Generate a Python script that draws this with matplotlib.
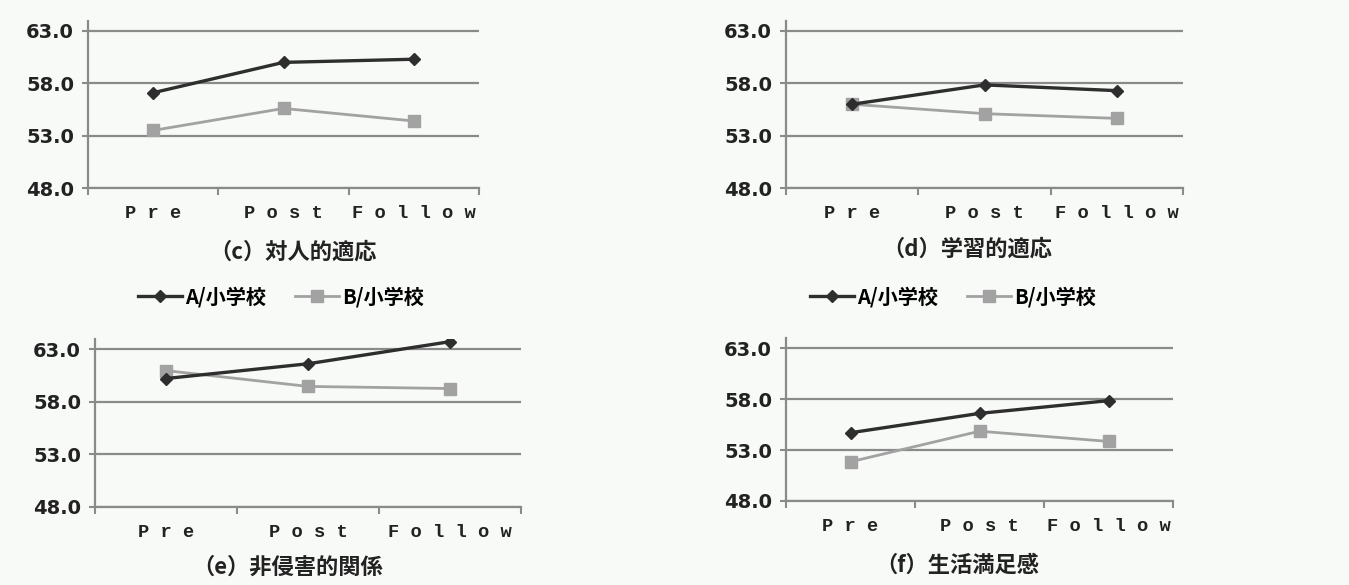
import matplotlib.pyplot as plt
from matplotlib.ticker import FixedLocator

plt.rcParams['font.family'] = ['Noto Sans CJK JP', 'DejaVu Sans']

# data
phases = ["P r e", "P o s t", "F o l l o w"]
school_a = "A/小学校"
school_b = "B/小学校"

titles = ["（c）対人的適応", "（d）学習的適応", "（e）非侵害的関係", "（f）生活満足感"]

a_scores = [
    [57.1, 60.0, 60.3],
    [56.0, 57.85, 57.3],
    [60.2, 61.6, 63.7],
    [54.7, 56.6, 57.85],
]
b_scores = [
    [53.5, 55.6, 54.4],
    [56.0, 55.1, 54.65],
    [60.95, 59.45, 59.25],
    [51.85, 54.85, 53.85],
]

yticks = [48.0, 53.0, 58.0, 63.0]

bg = "#f8faf7"
fig = plt.figure(figsize=(13.49, 5.85), dpi=100, facecolor=bg)

W, H = 1349.0, 585.0
# pixel boxes: left, right, top(=64), bottom(=48)
boxes = [
    (88, 479, 20.5, 188),
    (786, 1183, 20.5, 188),
    (95, 521, 338.5, 507),
    (786, 1173, 338, 501),
]
title_pos = [(293, 252), (967, 249), (288, 567), (957, 565)]

axes = []
for i, (l, r, t, b) in enumerate(boxes):
    ax = fig.add_axes([l / W, 1 - b / H, (r - l) / W, (b - t) / H])
    ax.set_facecolor(bg)
    xs = [k + 0.5 for k in range(len(phases))]
    ax.plot(xs, a_scores[i], color="#2e2e2e", lw=2.4, marker="D", ms=6,
            label=school_a, zorder=4)
    ax.plot(xs, b_scores[i], color="#a2a2a2", lw=2.0, marker="s", ms=8,
            label=school_b, zorder=3)
    ax.set_xlim(0, 3)
    ax.set_ylim(48, 64)
    ax.set_yticks(yticks)
    ax.set_yticklabels([f"{v:.1f}" for v in yticks], family="DejaVu Sans",
                       fontweight="bold", fontsize=14, color="#222222")
    ax.yaxis.grid(True, color="#8a8a8a", lw=1.6)
    ax.set_axisbelow(True)
    ax.xaxis.set_major_locator(FixedLocator([0, 1, 2, 3]))
    ax.xaxis.set_minor_locator(FixedLocator(xs))
    ax.set_xticklabels([], minor=False)
    ax.set_xticklabels(phases, minor=True, family="Liberation Mono",
                       fontweight="bold", fontsize=13.5, color="#222222")
    ax.tick_params(axis="x", which="major", length=5, width=1.5,
                   color="#8a8a8a", direction="out")
    ax.tick_params(axis="x", which="minor", length=0, pad=12)
    ax.tick_params(axis="y", length=4, width=1.5, color="#8a8a8a", pad=6)
    for s in ["top", "right"]:
        ax.spines[s].set_visible(False)
    for s in ["left", "bottom"]:
        ax.spines[s].set_color("#8a8a8a")
        ax.spines[s].set_linewidth(1.6)
    tx, ty = title_pos[i]
    fig.text(tx / W, 1 - ty / H, titles[i], ha="center", va="center",
             fontsize=16, fontweight="bold", color="#222222")
    axes.append(ax)

for ax, cx in [(axes[0], 281), (axes[1], 953)]:
    fig.legend(*ax.get_legend_handles_labels(), loc="center",
               bbox_to_anchor=(cx / W, 1 - 297 / H), ncol=2, frameon=False,
               prop={"weight": "bold", "size": 14.5}, handlelength=2.2,
               columnspacing=1.4, handletextpad=0.15)

fig.savefig("out.png", dpi=100, facecolor=bg)
